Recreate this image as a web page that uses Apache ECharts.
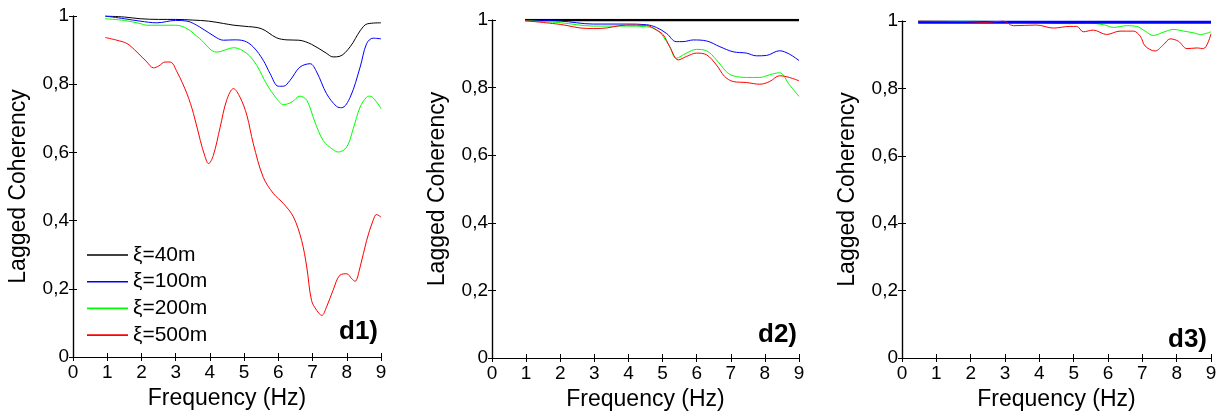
<!DOCTYPE html>
<html>
<head>
<meta charset="utf-8">
<script src="https://cdn.jsdelivr.net/npm/echarts@6/dist/echarts.min.js"></script>
<style>
  html, body { margin: 0; padding: 0; background: #fff; }
  #chart { width: 1220px; height: 416px; }
</style>
</head>
<body>
<div id="chart"></div>
<script>
// tick labels / axis ranges
const freqTicks = [0, 1, 2, 3, 4, 5, 6, 7, 8, 9]
const cohTicks = [0, 0.2, 0.4, 0.6, 0.8, 1]
const seriesNames = ['ξ=40m', 'ξ=100m', 'ξ=200m', 'ξ=500m']
const panelLabels = ['d1)', 'd2)', 'd3)']

// panel d1 : [frequency (Hz), lagged coherency]
const d1_40m = [[0.94, 1.0], [1.5, 0.997], [1.96, 0.992], [2.5, 0.99], [3.0, 0.99], [3.5, 0.988], [3.96, 0.985], [4.4, 0.978], [4.7, 0.973], [5.0, 0.97], [5.5, 0.963], [5.95, 0.936], [6.25, 0.93], [6.6, 0.929], [6.97, 0.917], [7.4, 0.891], [7.6, 0.88], [7.8, 0.882], [8.1, 0.91], [8.4, 0.958], [8.6, 0.977], [9.0, 0.98]]
const d1_100m = [[0.94, 1.0], [1.5, 0.992], [1.96, 0.985], [2.45, 0.98], [3.0, 0.987], [3.33, 0.985], [3.7, 0.968], [4.2, 0.936], [4.4, 0.929], [4.7, 0.93], [5.0, 0.927], [5.27, 0.909], [5.56, 0.87], [5.76, 0.831], [6.0, 0.794], [6.15, 0.794], [6.34, 0.811], [6.63, 0.85], [6.93, 0.86], [7.12, 0.836], [7.41, 0.772], [7.7, 0.735], [7.85, 0.731], [8.1, 0.762], [8.39, 0.85], [8.58, 0.919], [8.77, 0.935], [9.0, 0.933]]
const d1_200m = [[0.94, 0.992], [1.5, 0.987], [1.96, 0.978], [2.16, 0.973], [3.0, 0.973], [3.33, 0.963], [3.7, 0.934], [4.2, 0.894], [4.7, 0.907], [5.08, 0.89], [5.37, 0.855], [5.66, 0.8], [5.95, 0.758], [6.15, 0.74], [6.4, 0.748], [6.63, 0.765], [6.83, 0.753], [7.07, 0.689], [7.31, 0.635], [7.6, 0.608], [7.75, 0.601], [8.0, 0.616], [8.19, 0.67], [8.39, 0.733], [8.58, 0.762], [8.68, 0.765], [8.87, 0.748], [9.0, 0.728]]
const d1_500m = [[0.94, 0.937], [1.28, 0.929], [1.58, 0.919], [1.87, 0.894], [2.16, 0.865], [2.35, 0.848], [2.5, 0.853], [2.69, 0.865], [2.84, 0.865], [3.04, 0.836], [3.33, 0.772], [3.52, 0.714], [3.72, 0.635], [3.86, 0.587], [3.96, 0.567], [4.1, 0.591], [4.3, 0.674], [4.49, 0.753], [4.69, 0.787], [4.88, 0.762], [5.08, 0.709], [5.27, 0.625], [5.56, 0.527], [5.86, 0.479], [6.15, 0.45], [6.44, 0.411], [6.68, 0.342], [6.83, 0.264], [6.97, 0.166], [7.12, 0.137], [7.27, 0.122], [7.41, 0.147], [7.6, 0.196], [7.8, 0.24], [8.0, 0.244], [8.14, 0.23], [8.24, 0.222], [8.39, 0.264], [8.58, 0.342], [8.77, 0.401], [8.87, 0.418], [9.0, 0.41]]

// panel d2
const d2_40m = [[0.97, 1.0], [3.0, 1.0], [6.0, 1.0], [9.0, 1.0]]
const d2_100m = [[0.97, 1.0], [2.0, 0.997], [2.97, 0.988], [3.95, 0.988], [4.53, 0.986], [4.82, 0.978], [5.12, 0.96], [5.4, 0.936], [5.6, 0.936], [5.9, 0.941], [6.29, 0.938], [6.68, 0.921], [7.07, 0.906], [7.46, 0.902], [7.75, 0.894], [8.04, 0.895], [8.43, 0.909], [8.72, 0.899], [9.0, 0.88]]
const d2_200m = [[0.97, 0.998], [2.0, 0.992], [2.97, 0.982], [3.95, 0.982], [4.53, 0.98], [4.82, 0.972], [5.02, 0.951], [5.21, 0.921], [5.4, 0.887], [5.7, 0.902], [5.99, 0.913], [6.29, 0.909], [6.58, 0.882], [6.87, 0.847], [7.07, 0.835], [7.46, 0.83], [7.85, 0.83], [8.14, 0.838], [8.43, 0.844], [8.72, 0.808], [9.0, 0.774]]
const d2_500m = [[0.97, 0.998], [2.0, 0.987], [2.78, 0.975], [3.17, 0.975], [3.95, 0.985], [4.53, 0.984], [4.82, 0.97], [5.02, 0.956], [5.21, 0.921], [5.46, 0.882], [5.7, 0.892], [5.99, 0.902], [6.29, 0.897], [6.58, 0.867], [6.82, 0.833], [7.07, 0.818], [7.46, 0.815], [7.85, 0.81], [8.14, 0.818], [8.43, 0.835], [8.72, 0.83], [9.0, 0.82]]

// panel d3
const d3_40m = [[0.47, 0.997], [4.0, 0.997], [9.0, 0.997]]
const d3_100m = [[0.47, 0.996], [4.0, 0.996], [9.0, 0.996]]
const d3_200m = [[0.47, 1.0], [1.97, 1.0], [2.95, 0.998], [3.92, 0.996], [4.89, 0.992], [5.38, 0.994], [5.87, 0.989], [6.16, 0.981], [6.55, 0.986], [6.84, 0.984], [7.08, 0.97], [7.32, 0.957], [7.62, 0.967], [7.91, 0.975], [8.2, 0.97], [8.49, 0.965], [8.69, 0.96], [9.0, 0.968]]
const d3_500m = [[0.47, 1.0], [1.97, 0.998], [2.46, 0.996], [2.95, 1.0], [3.24, 0.986], [3.92, 0.988], [4.41, 0.979], [4.89, 0.984], [5.09, 0.984], [5.28, 0.968], [5.57, 0.973], [5.96, 0.96], [6.35, 0.97], [6.74, 0.97], [6.94, 0.955], [7.08, 0.926], [7.37, 0.911], [7.62, 0.93], [7.81, 0.947], [8.05, 0.94], [8.3, 0.918], [8.59, 0.92], [8.78, 0.918], [9.0, 0.962]]

const panelData = [
  [d1_40m, d1_100m, d1_200m, d1_500m],
  [d2_40m, d2_100m, d2_200m, d2_500m],
  [d3_40m, d3_100m, d3_200m, d3_500m]
]
const lineColors = ['#000000', '#0000ff', '#00ff00', '#ff0000']

const FONT = "'Liberation Sans', Arial, sans-serif"

// grid boxes (pixel) for the three panels
const grids = [
  { left: 73, top: 16, width: 308, height: 341 },
  { left: 492, top: 20, width: 307, height: 339 },
  { left: 902, top: 21, width: 309, height: 341 }
]
const labelPos = [
  { right: 1220 - 378, top: 319 },
  { right: 1220 - 797, top: 322 },
  { right: 1220 - 1207, top: 327 }
]
const lineWidths = [
  [1, 1, 1, 1],
  [2.5, 1, 1, 1],
  [1, 3, 1, 1]
]

const fmtComma = (v) => String(Math.round(v * 10) / 10).replace('.', ',')

const chart = echarts.init(document.getElementById('chart'), null, { renderer: 'canvas' })

const xAxis = []
const yAxis = []
const series = []
const title = []

grids.forEach((g, i) => {
  const axisLine = { show: true, lineStyle: { color: '#000', width: 1.2 } }
  const axisTick = { show: true, inside: true, length: 4, lineStyle: { color: '#000' } }
  xAxis.push({
    gridIndex: i,
    type: 'value',
    min: freqTicks[0],
    max: freqTicks[freqTicks.length - 1],
    interval: 1,
    name: 'Frequency (Hz)',
    nameLocation: 'middle',
    nameGap: i === 0 ? 29 : 30,
    nameTextStyle: { color: '#000', fontSize: 23, fontFamily: FONT },
    axisLine,
    axisTick,
    splitLine: { show: false },
    axisLabel: { color: '#000', fontSize: 19, fontFamily: FONT, margin: 6 }
  })
  xAxis.push({
    gridIndex: i,
    type: 'value',
    position: 'top',
    min: freqTicks[0],
    max: freqTicks[freqTicks.length - 1],
    interval: 1,
    axisLine,
    axisTick,
    splitLine: { show: false },
    axisLabel: { show: false }
  })
  yAxis.push({
    gridIndex: i,
    type: 'value',
    min: cohTicks[0],
    max: cohTicks[cohTicks.length - 1],
    interval: 0.2,
    name: 'Lagged Coherency',
    nameLocation: 'middle',
    nameGap: 43,
    nameTextStyle: { color: '#000', fontSize: 23, fontFamily: FONT },
    axisLine,
    axisTick,
    splitLine: { show: false },
    axisLabel: { color: '#000', fontSize: 19, fontFamily: FONT, margin: 4, formatter: fmtComma }
  })
  yAxis.push({
    gridIndex: i,
    type: 'value',
    position: 'right',
    min: cohTicks[0],
    max: cohTicks[cohTicks.length - 1],
    interval: 0.2,
    axisLine,
    axisTick,
    splitLine: { show: false },
    axisLabel: { show: false }
  })
  panelData[i].forEach((d, k) => {
    series.push({
      name: seriesNames[k],
      type: 'line',
      xAxisIndex: i * 2,
      yAxisIndex: i * 2,
      data: d,
      smooth: 0.35,
      symbol: 'none',
      lineStyle: { color: lineColors[k], width: lineWidths[i][k] },
      itemStyle: { color: lineColors[k] },
      z: k === 1 && i === 2 ? 5 : 2 + k,
      animation: false
    })
  })
  title.push({
    text: panelLabels[i],
    right: labelPos[i].right,
    top: labelPos[i].top,
    padding: 0,
    textStyle: { color: '#000', fontSize: 26, fontWeight: 'bold', fontFamily: FONT }
  })
})

const option = {
  backgroundColor: '#fff',
  animation: false,
  title,
  grid: grids.map(g => Object.assign({ containLabel: false }, g)),
  legend: {
    data: seriesNames,
    orient: 'vertical',
    left: 87,
    top: 244,
    padding: 0,
    itemGap: 4.7,
    itemWidth: 41,
    itemHeight: 1.6,
    icon: 'rect',
    textStyle: { color: '#000', fontSize: 21, lineHeight: 22, fontFamily: FONT },
    selectedMode: false
  },
  xAxis,
  yAxis,
  series
}

chart.setOption(option)
</script>
</body>
</html>
